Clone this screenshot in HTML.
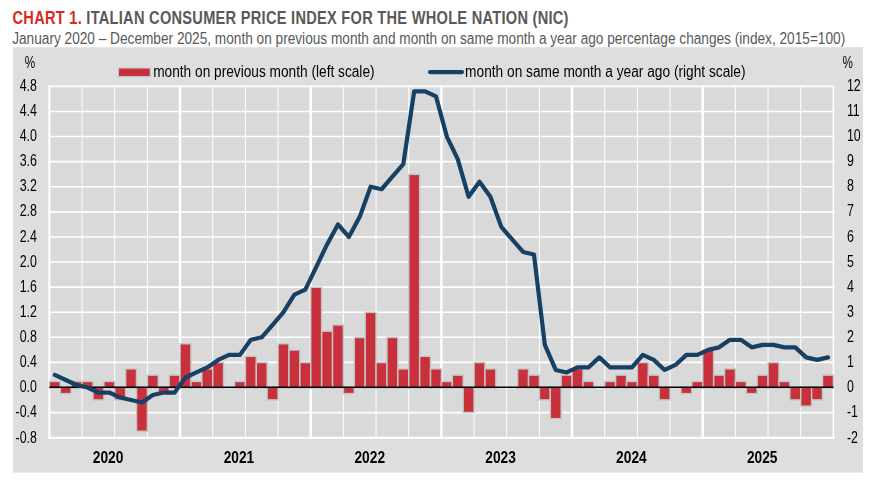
<!DOCTYPE html>
<html><head><meta charset="utf-8"><title>Chart 1</title>
<style>
html,body{margin:0;padding:0;background:#fff;}
body{width:876px;height:482px;overflow:hidden;font-family:"Liberation Sans",sans-serif;}
svg{display:block;}
text{font-family:"Liberation Sans",sans-serif;}
</style></head><body>
<svg width="876" height="482" viewBox="0 0 876 482">
<rect x="0" y="0" width="876" height="482" fill="#ffffff"/>
<rect x="13" y="47.2" width="850" height="425.4" fill="#dedede"/>
<rect x="49.40" y="86.35" width="784.00" height="351.35" fill="#d9d9d9"/>
<g stroke="#ffffff" stroke-width="1.6" fill="none">
<line x1="48.40" y1="86.35" x2="834.20" y2="86.35" stroke-width="1.8"/>
<line x1="48.40" y1="111.45" x2="834.20" y2="111.45"/>
<line x1="48.40" y1="136.54" x2="834.20" y2="136.54"/>
<line x1="48.40" y1="161.64" x2="834.20" y2="161.64"/>
<line x1="48.40" y1="186.74" x2="834.20" y2="186.74"/>
<line x1="48.40" y1="211.83" x2="834.20" y2="211.83"/>
<line x1="48.40" y1="236.93" x2="834.20" y2="236.93"/>
<line x1="48.40" y1="262.02" x2="834.20" y2="262.02"/>
<line x1="48.40" y1="287.12" x2="834.20" y2="287.12"/>
<line x1="48.40" y1="312.22" x2="834.20" y2="312.22"/>
<line x1="48.40" y1="337.31" x2="834.20" y2="337.31"/>
<line x1="48.40" y1="362.41" x2="834.20" y2="362.41"/>
<line x1="48.40" y1="387.51" x2="834.20" y2="387.51"/>
<line x1="48.40" y1="412.60" x2="834.20" y2="412.60"/>
<line x1="48.40" y1="437.70" x2="834.20" y2="437.70" stroke-width="2"/>
</g>
<g stroke="#ffffff" fill="none">
<line x1="49.40" y1="85.55" x2="49.40" y2="438.50" stroke-width="2.1"/>
<line x1="82.07" y1="85.55" x2="82.07" y2="438.50" stroke-width="1.0"/>
<line x1="114.73" y1="85.55" x2="114.73" y2="438.50" stroke-width="1.0"/>
<line x1="147.40" y1="85.55" x2="147.40" y2="438.50" stroke-width="1.0"/>
<line x1="180.07" y1="85.55" x2="180.07" y2="438.50" stroke-width="2.4"/>
<line x1="212.73" y1="85.55" x2="212.73" y2="438.50" stroke-width="1.0"/>
<line x1="245.40" y1="85.55" x2="245.40" y2="438.50" stroke-width="1.0"/>
<line x1="278.07" y1="85.55" x2="278.07" y2="438.50" stroke-width="1.0"/>
<line x1="310.73" y1="85.55" x2="310.73" y2="438.50" stroke-width="2.4"/>
<line x1="343.40" y1="85.55" x2="343.40" y2="438.50" stroke-width="1.0"/>
<line x1="376.07" y1="85.55" x2="376.07" y2="438.50" stroke-width="1.0"/>
<line x1="408.73" y1="85.55" x2="408.73" y2="438.50" stroke-width="1.0"/>
<line x1="441.40" y1="85.55" x2="441.40" y2="438.50" stroke-width="2.4"/>
<line x1="474.07" y1="85.55" x2="474.07" y2="438.50" stroke-width="1.0"/>
<line x1="506.73" y1="85.55" x2="506.73" y2="438.50" stroke-width="1.0"/>
<line x1="539.40" y1="85.55" x2="539.40" y2="438.50" stroke-width="1.0"/>
<line x1="572.07" y1="85.55" x2="572.07" y2="438.50" stroke-width="2.4"/>
<line x1="604.73" y1="85.55" x2="604.73" y2="438.50" stroke-width="1.0"/>
<line x1="637.40" y1="85.55" x2="637.40" y2="438.50" stroke-width="1.0"/>
<line x1="670.07" y1="85.55" x2="670.07" y2="438.50" stroke-width="1.0"/>
<line x1="702.73" y1="85.55" x2="702.73" y2="438.50" stroke-width="2.4"/>
<line x1="735.40" y1="85.55" x2="735.40" y2="438.50" stroke-width="1.0"/>
<line x1="768.07" y1="85.55" x2="768.07" y2="438.50" stroke-width="1.0"/>
<line x1="800.73" y1="85.55" x2="800.73" y2="438.50" stroke-width="1.0"/>
<line x1="833.40" y1="85.55" x2="833.40" y2="438.50" stroke-width="1.6"/>
</g>
<g fill="#c8303c" stroke="#c1c7c7" stroke-width="2.8" paint-order="stroke">
<rect x="50.14" y="382.13" width="9.40" height="5.37"/>
<rect x="61.03" y="387.51" width="9.40" height="5.37"/>
<rect x="71.92" y="382.13" width="9.40" height="5.37"/>
<rect x="82.81" y="382.13" width="9.40" height="5.37"/>
<rect x="93.70" y="387.51" width="9.40" height="11.65"/>
<rect x="104.59" y="382.13" width="9.40" height="5.37"/>
<rect x="115.48" y="387.51" width="9.40" height="11.65"/>
<rect x="126.37" y="369.58" width="9.40" height="17.92"/>
<rect x="137.26" y="387.51" width="9.40" height="43.02"/>
<rect x="148.14" y="375.86" width="9.40" height="11.65"/>
<rect x="159.03" y="387.51" width="9.40" height="5.37"/>
<rect x="169.92" y="375.86" width="9.40" height="11.65"/>
<rect x="180.81" y="344.49" width="9.40" height="43.02"/>
<rect x="191.70" y="382.13" width="9.40" height="5.37"/>
<rect x="202.59" y="369.58" width="9.40" height="17.92"/>
<rect x="213.48" y="363.31" width="9.40" height="24.20"/>
<rect x="235.26" y="382.13" width="9.40" height="5.37"/>
<rect x="246.14" y="357.04" width="9.40" height="30.47"/>
<rect x="257.03" y="363.31" width="9.40" height="24.20"/>
<rect x="267.92" y="387.51" width="9.40" height="11.65"/>
<rect x="278.81" y="344.49" width="9.40" height="43.02"/>
<rect x="289.70" y="350.76" width="9.40" height="36.74"/>
<rect x="300.59" y="363.31" width="9.40" height="24.20"/>
<rect x="311.48" y="288.02" width="9.40" height="99.49"/>
<rect x="322.37" y="331.94" width="9.40" height="55.57"/>
<rect x="333.26" y="325.67" width="9.40" height="61.84"/>
<rect x="344.14" y="387.51" width="9.40" height="5.37"/>
<rect x="355.03" y="338.21" width="9.40" height="49.29"/>
<rect x="365.92" y="313.12" width="9.40" height="74.39"/>
<rect x="376.81" y="363.31" width="9.40" height="24.20"/>
<rect x="387.70" y="338.21" width="9.40" height="49.29"/>
<rect x="398.59" y="369.58" width="9.40" height="17.92"/>
<rect x="409.48" y="175.09" width="9.40" height="212.42"/>
<rect x="420.37" y="357.04" width="9.40" height="30.47"/>
<rect x="431.26" y="369.58" width="9.40" height="17.92"/>
<rect x="442.14" y="382.13" width="9.40" height="5.37"/>
<rect x="453.03" y="375.86" width="9.40" height="11.65"/>
<rect x="463.92" y="387.51" width="9.40" height="24.20"/>
<rect x="474.81" y="363.31" width="9.40" height="24.20"/>
<rect x="485.70" y="369.58" width="9.40" height="17.92"/>
<rect x="518.37" y="369.58" width="9.40" height="17.92"/>
<rect x="529.26" y="375.86" width="9.40" height="11.65"/>
<rect x="540.14" y="387.51" width="9.40" height="11.65"/>
<rect x="551.03" y="387.51" width="9.40" height="30.47"/>
<rect x="561.92" y="375.86" width="9.40" height="11.65"/>
<rect x="572.81" y="369.58" width="9.40" height="17.92"/>
<rect x="583.70" y="382.13" width="9.40" height="5.37"/>
<rect x="605.48" y="382.13" width="9.40" height="5.37"/>
<rect x="616.37" y="375.86" width="9.40" height="11.65"/>
<rect x="627.26" y="382.13" width="9.40" height="5.37"/>
<rect x="638.14" y="363.31" width="9.40" height="24.20"/>
<rect x="649.03" y="375.86" width="9.40" height="11.65"/>
<rect x="659.92" y="387.51" width="9.40" height="11.65"/>
<rect x="681.70" y="387.51" width="9.40" height="5.37"/>
<rect x="692.59" y="382.13" width="9.40" height="5.37"/>
<rect x="703.48" y="350.76" width="9.40" height="36.74"/>
<rect x="714.37" y="375.86" width="9.40" height="11.65"/>
<rect x="725.26" y="369.58" width="9.40" height="17.92"/>
<rect x="736.14" y="382.13" width="9.40" height="5.37"/>
<rect x="747.03" y="387.51" width="9.40" height="5.37"/>
<rect x="757.92" y="375.86" width="9.40" height="11.65"/>
<rect x="768.81" y="363.31" width="9.40" height="24.20"/>
<rect x="779.70" y="382.13" width="9.40" height="5.37"/>
<rect x="790.59" y="387.51" width="9.40" height="11.65"/>
<rect x="801.48" y="387.51" width="9.40" height="17.92"/>
<rect x="812.37" y="387.51" width="9.40" height="11.65"/>
<rect x="823.26" y="375.86" width="9.40" height="11.65"/>
</g>
<line x1="49.40" y1="387.31" x2="833.40" y2="387.31" stroke="#000000" stroke-width="1.5"/>
<polyline points="54.84,374.96 65.73,379.98 76.62,385.00 87.51,387.51 98.40,392.53 109.29,392.53 120.18,397.55 131.07,400.06 141.96,402.56 152.84,395.04 163.73,392.53 174.62,392.53 185.51,377.47 196.40,372.45 207.29,367.43 218.18,359.90 229.07,354.88 239.96,354.88 250.84,339.82 261.73,337.31 272.62,324.77 283.51,312.22 294.40,294.65 305.29,289.63 316.18,267.04 327.07,244.46 337.96,224.38 348.84,236.93 359.73,216.85 370.62,186.74 381.51,189.25 392.40,176.70 403.29,164.15 414.18,91.37 425.07,91.37 435.96,96.39 446.84,136.54 457.73,159.13 468.62,196.77 479.51,181.72 490.40,196.77 501.29,226.89 512.18,239.44 523.07,251.99 533.96,254.50 544.84,344.84 555.73,369.94 566.62,372.45 577.51,367.43 588.40,367.43 599.29,357.39 610.18,367.43 621.07,367.43 631.96,367.43 642.84,354.88 653.73,359.90 664.62,369.94 675.51,364.92 686.40,354.88 697.29,354.88 708.18,349.86 719.07,347.35 729.96,339.82 740.84,339.82 751.73,347.35 762.62,344.84 773.51,344.84 784.40,347.35 795.29,347.35 806.18,357.39 817.07,359.90 827.96,357.39" fill="none" stroke="#174065" stroke-width="4.2" stroke-linejoin="round" stroke-linecap="round"/>
<g opacity="0.999">
<text transform="translate(36.90,90.75) scale(0.775,1)" font-size="16" font-weight="normal" fill="#000000" text-anchor="end">4.8</text>
<text transform="translate(36.90,115.88) scale(0.775,1)" font-size="16" font-weight="normal" fill="#000000" text-anchor="end">4.4</text>
<text transform="translate(36.90,141.00) scale(0.775,1)" font-size="16" font-weight="normal" fill="#000000" text-anchor="end">4.0</text>
<text transform="translate(36.90,166.12) scale(0.775,1)" font-size="16" font-weight="normal" fill="#000000" text-anchor="end">3.6</text>
<text transform="translate(36.90,191.25) scale(0.775,1)" font-size="16" font-weight="normal" fill="#000000" text-anchor="end">3.2</text>
<text transform="translate(36.90,216.38) scale(0.775,1)" font-size="16" font-weight="normal" fill="#000000" text-anchor="end">2.8</text>
<text transform="translate(36.90,241.50) scale(0.775,1)" font-size="16" font-weight="normal" fill="#000000" text-anchor="end">2.4</text>
<text transform="translate(36.90,266.62) scale(0.775,1)" font-size="16" font-weight="normal" fill="#000000" text-anchor="end">2.0</text>
<text transform="translate(36.90,291.75) scale(0.775,1)" font-size="16" font-weight="normal" fill="#000000" text-anchor="end">1.6</text>
<text transform="translate(36.90,316.88) scale(0.775,1)" font-size="16" font-weight="normal" fill="#000000" text-anchor="end">1.2</text>
<text transform="translate(36.90,342.00) scale(0.775,1)" font-size="16" font-weight="normal" fill="#000000" text-anchor="end">0.8</text>
<text transform="translate(36.90,367.12) scale(0.775,1)" font-size="16" font-weight="normal" fill="#000000" text-anchor="end">0.4</text>
<text transform="translate(36.90,392.25) scale(0.775,1)" font-size="16" font-weight="normal" fill="#000000" text-anchor="end">0.0</text>
<text transform="translate(36.90,417.37) scale(0.775,1)" font-size="16" font-weight="normal" fill="#000000" text-anchor="end">-0.4</text>
<text transform="translate(36.90,442.50) scale(0.775,1)" font-size="16" font-weight="normal" fill="#000000" text-anchor="end">-0.8</text>
<text transform="translate(846.90,90.75) scale(0.775,1)" font-size="16" font-weight="normal" fill="#000000" text-anchor="start">12</text>
<text transform="translate(846.90,115.88) scale(0.775,1)" font-size="16" font-weight="normal" fill="#000000" text-anchor="start">11</text>
<text transform="translate(846.90,141.00) scale(0.775,1)" font-size="16" font-weight="normal" fill="#000000" text-anchor="start">10</text>
<text transform="translate(846.90,166.12) scale(0.775,1)" font-size="16" font-weight="normal" fill="#000000" text-anchor="start">9</text>
<text transform="translate(846.90,191.25) scale(0.775,1)" font-size="16" font-weight="normal" fill="#000000" text-anchor="start">8</text>
<text transform="translate(846.90,216.38) scale(0.775,1)" font-size="16" font-weight="normal" fill="#000000" text-anchor="start">7</text>
<text transform="translate(846.90,241.50) scale(0.775,1)" font-size="16" font-weight="normal" fill="#000000" text-anchor="start">6</text>
<text transform="translate(846.90,266.62) scale(0.775,1)" font-size="16" font-weight="normal" fill="#000000" text-anchor="start">5</text>
<text transform="translate(846.90,291.75) scale(0.775,1)" font-size="16" font-weight="normal" fill="#000000" text-anchor="start">4</text>
<text transform="translate(846.90,316.88) scale(0.775,1)" font-size="16" font-weight="normal" fill="#000000" text-anchor="start">3</text>
<text transform="translate(846.90,342.00) scale(0.775,1)" font-size="16" font-weight="normal" fill="#000000" text-anchor="start">2</text>
<text transform="translate(846.90,367.12) scale(0.775,1)" font-size="16" font-weight="normal" fill="#000000" text-anchor="start">1</text>
<text transform="translate(846.90,392.25) scale(0.775,1)" font-size="16" font-weight="normal" fill="#000000" text-anchor="start">0</text>
<text transform="translate(846.90,417.37) scale(0.775,1)" font-size="16" font-weight="normal" fill="#000000" text-anchor="start">-1</text>
<text transform="translate(846.90,442.50) scale(0.775,1)" font-size="16" font-weight="normal" fill="#000000" text-anchor="start">-2</text>
<text transform="translate(24.70,68.10) scale(0.690,1)" font-size="17" font-weight="normal" fill="#000000" text-anchor="start">%</text>
<text transform="translate(842.50,68.10) scale(0.690,1)" font-size="17" font-weight="normal" fill="#000000" text-anchor="start">%</text>
<text transform="translate(108.10,463.20) scale(0.860,1)" font-size="16" font-weight="bold" fill="#000000" text-anchor="middle">2020</text>
<text transform="translate(238.92,463.20) scale(0.860,1)" font-size="16" font-weight="bold" fill="#000000" text-anchor="middle">2021</text>
<text transform="translate(369.74,463.20) scale(0.860,1)" font-size="16" font-weight="bold" fill="#000000" text-anchor="middle">2022</text>
<text transform="translate(500.56,463.20) scale(0.860,1)" font-size="16" font-weight="bold" fill="#000000" text-anchor="middle">2023</text>
<text transform="translate(631.38,463.20) scale(0.860,1)" font-size="16" font-weight="bold" fill="#000000" text-anchor="middle">2024</text>
<text transform="translate(762.20,463.20) scale(0.860,1)" font-size="16" font-weight="bold" fill="#000000" text-anchor="middle">2025</text>
<rect x="119.0" y="68.6" width="30.7" height="7.4" fill="#c8303c" stroke="#c1c7c7" stroke-width="2.4" paint-order="stroke"/>
<text x="153.20" y="77.00" font-size="16" font-weight="normal" fill="#000000" text-anchor="start" textLength="221.40" lengthAdjust="spacingAndGlyphs">month on previous month (left scale)</text>
<line x1="430" y1="72.1" x2="462" y2="72.1" stroke="#174065" stroke-width="4.2" stroke-linecap="round"/>
<text x="465.10" y="77.00" font-size="16" font-weight="normal" fill="#000000" text-anchor="start" textLength="280.40" lengthAdjust="spacingAndGlyphs">month on same month a year ago (right scale)</text>
</g>
<text transform="translate(12.5,23.9) scale(0.835,1)" font-size="17.5" font-weight="bold" textLength="665.87" lengthAdjust="spacing"><tspan fill="#d52b1e">CHART 1.</tspan><tspan fill="#595959"> ITALIAN CONSUMER PRICE INDEX FOR THE WHOLE NATION (NIC)</tspan></text>
<text x="12.20" y="43.70" font-size="16" font-weight="normal" fill="#595959" text-anchor="start" textLength="833.00" lengthAdjust="spacingAndGlyphs">January 2020 – December 2025, month on previous month and month on same month a year ago percentage changes (index, 2015=100)</text>
</svg>
</body></html>
